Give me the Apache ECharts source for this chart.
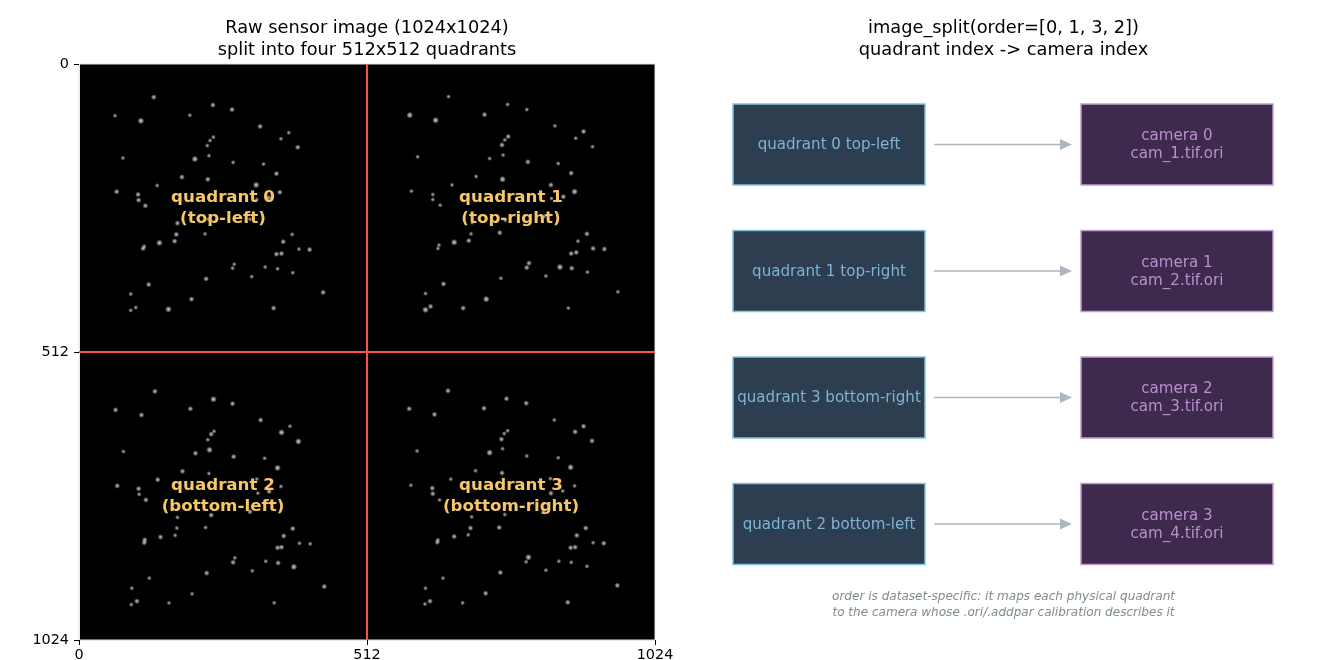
<!DOCTYPE html>
<html><head><meta charset="utf-8">
<style>html,body{margin:0;padding:0;background:#fff}#c{width:1320px;height:660px}</style>
<script src="https://cdn.jsdelivr.net/npm/echarts@6/dist/echarts.min.js"></script>
</head><body><div id="c"></div>
<script>
// Spots: [x pixel, y pixel, intensity 1-3], sensor image coordinates
const spotsQ0 = [[133,59,2],[64,92,1],[110,101,3],[197,91,1],[238,73,2],[272,81,2],[322,111,2],[373,122,1],[359,133,1],[389,148,2],[239,130,1],[233,136,1],[228,145,1],[231,163,1],[206,169,3],[78,167,1],[274,175,1],[328,178,1],[351,195,2],[183,201,2],[229,205,2],[139,216,1],[315,215,3],[67,227,2],[105,232,2],[106,242,2],[118,252,2],[357,228,2],[337,238,2],[316,241,1],[175,283,2],[173,303,2],[224,302,1],[379,303,1],[363,316,2],[170,315,2],[143,318,3],[116,324,1],[114,328,2],[391,329,1],[410,330,2],[351,338,2],[360,337,2],[276,356,1],[273,363,1],[331,361,1],[353,364,1],[380,371,1],[307,378,1],[226,382,2],[124,392,2],[92,409,1],[434,406,2],[200,418,2],[101,433,1],[92,438,1],[159,436,3],[346,434,2],[230,276,1],[304,276,1]];
const spotsQ1 = [[657,58,1],[588,91,3],[634,100,3],[721,90,2],[762,72,1],[796,81,1],[846,110,1],[897,120,2],[883,132,1],[913,147,1],[763,129,2],[757,135,1],[752,144,2],[754,162,1],[730,168,1],[602,165,1],[798,174,2],[852,177,1],[875,194,2],[706,200,1],[753,205,3],[663,215,1],[839,215,2],[591,226,1],[629,232,1],[629,241,1],[642,251,1],[881,227,3],[861,236,2],[840,239,1],[699,282,1],[697,302,1],[748,300,2],[903,302,2],[887,315,1],[693,314,2],[667,317,3],[640,322,1],[638,328,1],[914,328,2],[934,329,2],[875,337,2],[884,335,2],[800,354,2],[796,362,2],[855,361,3],[876,363,2],[904,370,1],[830,377,1],[750,381,1],[648,391,2],[616,408,1],[958,405,1],[724,418,3],[625,431,2],[616,437,3],[683,434,2],[870,434,1],[758,278,1],[827,271,1]];
const spotsQ2 = [[135,582,2],[65,615,2],[111,624,2],[198,613,2],[239,596,3],[273,604,2],[323,633,2],[375,644,1],[360,655,3],[390,671,3],[240,653,1],[235,658,2],[229,668,1],[232,686,3],[207,692,2],[79,689,1],[275,698,2],[330,701,1],[353,718,3],[184,724,2],[231,728,1],[140,739,2],[316,738,1],[68,750,2],[106,755,2],[107,765,1],[119,775,2],[359,751,1],[338,760,2],[318,763,1],[175,806,1],[174,825,1],[225,824,1],[380,826,2],[364,839,2],[171,838,1],[145,841,2],[117,846,2],[116,851,2],[392,852,1],[411,853,1],[353,860,2],[360,859,2],[277,878,1],[274,886,2],[332,884,1],[354,887,2],[382,894,3],[308,901,1],[227,905,2],[125,914,1],[94,932,1],[436,929,2],[201,942,1],[103,955,2],[93,961,1],[160,958,1],[347,958,1],[235,802,2],[304,796,2]];
const spotsQ3 = [[656,581,2],[587,613,2],[632,623,2],[720,612,2],[760,595,2],[795,603,2],[845,633,1],[897,644,2],[882,654,2],[912,670,2],[762,652,1],[756,657,1],[751,667,2],[753,684,1],[730,691,3],[601,688,1],[796,697,1],[852,700,1],[874,717,3],[705,723,1],[752,727,2],[661,738,1],[838,737,1],[590,749,1],[628,754,2],[629,764,2],[641,775,1],[881,750,1],[860,759,1],[839,763,2],[698,805,1],[696,825,2],[747,824,2],[901,825,2],[885,838,2],[692,837,1],[667,840,2],[638,846,1],[637,850,2],[914,851,1],[933,852,2],[874,860,2],[882,859,2],[799,877,3],[795,885,1],[853,884,1],[875,886,1],[903,893,1],[830,900,1],[749,904,2],[647,914,1],[616,932,1],[957,927,2],[723,941,2],[624,955,2],[615,960,1],[682,958,1],[869,957,2],[757,801,1],[826,795,1]];
const splitLineV = [[512,0],[512,1024]];
const splitLineH = [[0,512],[1024,512]];
const quadrantLabels = [[256,256,'quadrant 0\n(top-left)'],[768,256,'quadrant 1\n(top-right)'],[256,768,'quadrant 2\n(bottom-left)'],[768,768,'quadrant 3\n(bottom-right)']];
const quadrantNames = ['quadrant 0 top-left','quadrant 1 top-right','quadrant 3 bottom-right','quadrant 2 bottom-left'];
const cameraNames = ['camera 0\ncam_1.tif.ori','camera 1\ncam_2.tif.ori','camera 2\ncam_3.tif.ori','camera 3\ncam_4.tif.ori'];

const FONT = '"DejaVu Sans"';
const spotSize = {1:5,2:6,3:7};
const spotPeak = {1:'rgba(210,210,210,1)',2:'rgba(235,235,235,1)',3:'rgba(255,255,255,1)'};
const spotGrad = i => ({type:'radial',x:.5,y:.5,r:.5,colorStops:[
  {offset:0,color:spotPeak[i]},{offset:.45,color:spotPeak[i].replace(',1)',',.65)')},{offset:1,color:'rgba(200,200,200,0)'}]});
const spotSeries = d => ({type:'scatter',xAxisIndex:0,yAxisIndex:0,data:d,silent:true,
  symbolSize:v=>spotSize[v[2]],itemStyle:{color:p=>spotGrad(p.data[2])}});
const redLine = d => ({type:'line',xAxisIndex:0,yAxisIndex:0,data:d,symbol:'none',silent:true,z:5,
  lineStyle:{color:'#ff5050',width:2}});

const chart = echarts.init(document.getElementById('c'),null,{renderer:'canvas'});
chart.setOption({
  animation:false,backgroundColor:'#fff',
  title:[
    {text:'Raw sensor image (1024x1024)\nsplit into four 512x512 quadrants',left:367,top:17,padding:0,textAlign:'center',
     textStyle:{fontFamily:FONT,fontSize:17.8,fontWeight:'normal',color:'#000',lineHeight:22}},
    {text:'image_split(order=[0, 1, 3, 2])\nquadrant index -> camera index',left:1003.5,top:17,padding:0,textAlign:'center',
     textStyle:{fontFamily:FONT,fontSize:17.8,fontWeight:'normal',color:'#000',lineHeight:22}},
    {text:'order is dataset-specific: it maps each physical quadrant\nto the camera whose .ori/.addpar calibration describes it',left:1003.5,top:589,padding:0,textAlign:'center',
     textStyle:{fontFamily:FONT,fontSize:12.05,fontWeight:'normal',fontStyle:'italic',color:'#7f8c8d',lineHeight:16}}
  ],
  grid:[
    {left:79,top:64,width:576,height:576,show:true,backgroundColor:'#000',borderWidth:1,borderColor:'#e8e8e8',outerBoundsMode:'none'},
    {left:733,top:81.3,width:540,height:506,show:false,outerBoundsMode:'none'}
  ],
  xAxis:[
    {gridIndex:0,type:'value',min:0,max:1024,interval:512,position:'bottom',splitLine:{show:false},
     axisLine:{show:true,onZero:false,lineStyle:{color:'#e8e8e8',width:1}},axisTick:{show:true,length:5,lineStyle:{color:'#000',width:1}},
     axisLabel:{color:'#000',fontFamily:FONT,fontSize:14.4,margin:8,formatter:v=>String(v)}},
    {gridIndex:1,type:'value',min:0,max:540,show:false}
  ],
  yAxis:[
    {gridIndex:0,type:'value',min:0,max:1024,interval:512,inverse:true,position:'left',splitLine:{show:false},
     axisLine:{show:true,onZero:false,lineStyle:{color:'#e8e8e8',width:1}},axisTick:{show:true,length:5,lineStyle:{color:'#000',width:1}},
     axisLabel:{color:'#000',fontFamily:FONT,fontSize:14.4,margin:10,formatter:v=>String(v)}},
    {gridIndex:1,type:'category',data:quadrantNames,inverse:true,show:false}
  ],
  series:[
    spotSeries(spotsQ0),spotSeries(spotsQ1),spotSeries(spotsQ2),spotSeries(spotsQ3),
    redLine(splitLineV),redLine(splitLineH),
    {type:'custom',xAxisIndex:0,yAxisIndex:0,coordinateSystem:'cartesian2d',silent:true,z:6,data:quadrantLabels,
     renderItem:(p,api)=>{const c=api.coord([api.value(0),api.value(1)]);
       return {type:'text',style:{text:quadrantLabels[p.dataIndex][2],x:c[0],y:c[1],align:'center',verticalAlign:'middle',
         fill:'#f7c765',font:'bold 16.7px '+FONT,lineHeight:21}};}},
    {type:'custom',xAxisIndex:1,yAxisIndex:1,coordinateSystem:'cartesian2d',silent:true,
     data:quadrantNames.map((n,i)=>[i]),
     renderItem:(p,api)=>{
       const i=p.dataIndex, y=api.coord([0,i])[1], X=v=>api.coord([v,i])[0], H=81;
       const box=(a,b,fill,stroke)=>({type:'rect',shape:{x:X(a),y:y-H/2,width:X(b)-X(a),height:H},style:{fill,stroke,lineWidth:1.5}});
       const txt=(a,b,t,fill)=>({type:'text',style:{text:t,x:(X(a)+X(b))/2,y:y+0.7,align:'center',verticalAlign:'middle',fill,font:'15.1px '+FONT,lineHeight:18}});
       return {type:'group',children:[
         box(0,192,'#2c3e50','#85c1e0'),txt(0,192,quadrantNames[i],'#7fb3d5'),
         box(348,540,'#3d2a4d','#c39bd3'),txt(348,540,cameraNames[i],'#bb8fce'),
         {type:'line',shape:{x1:X(201),y1:y,x2:X(328),y2:y},style:{stroke:'#aeb6bf',lineWidth:1.5}},
         {type:'polygon',shape:{points:[[X(327),y-5.5],[X(339),y],[X(327),y+5.5]]},style:{fill:'#aeb6bf'}}
       ]};
     }}
  ]
});
</script></body></html>
